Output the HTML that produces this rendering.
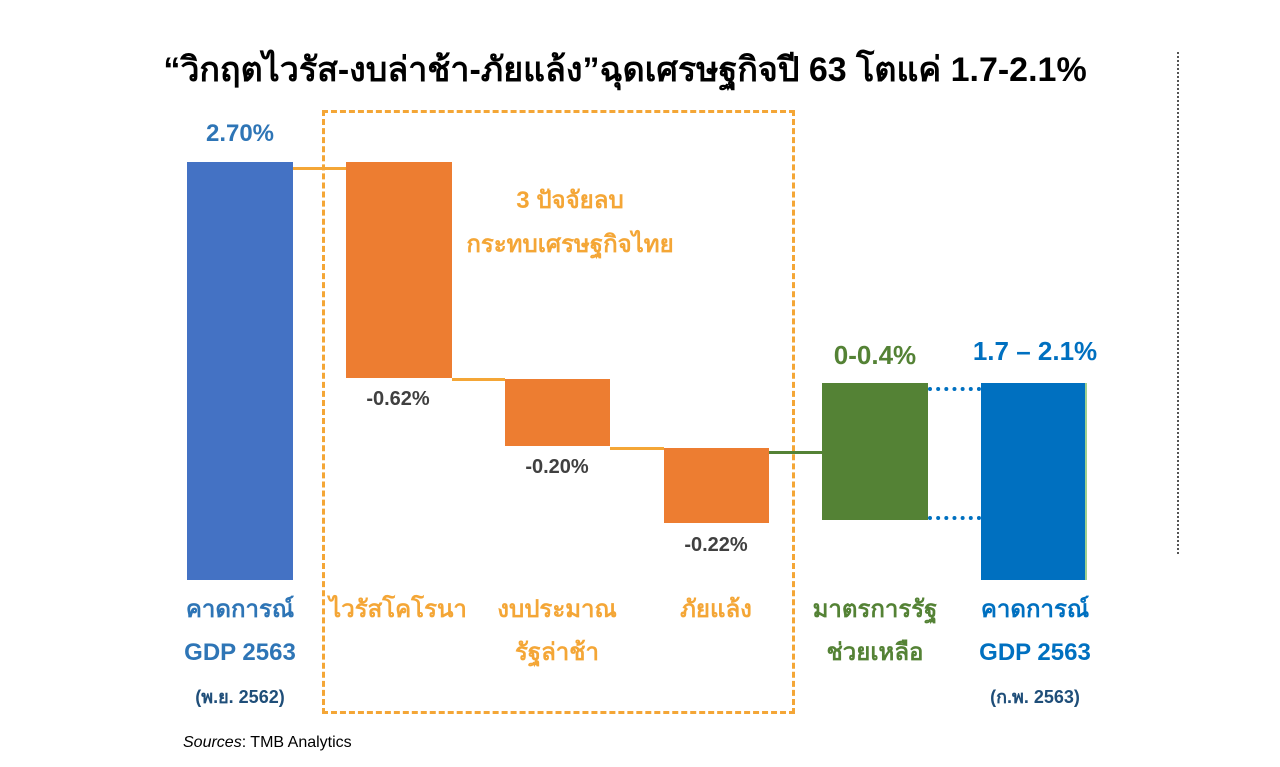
<!DOCTYPE html>
<html><head><meta charset="utf-8"><style>
body{margin:0;width:1280px;height:767px;background:#fff;position:relative;overflow:hidden;font-family:"Liberation Sans","DejaVu Sans","Noto Sans CJK SC",sans-serif;font-weight:bold}
div{position:absolute}
.t{text-align:center;white-space:nowrap}
</style></head><body>
<div class="t" style="left:40px;width:1170px;top:42px;font-size:34px;color:#000">“วิกฤตไวรัส-งบล่าช้า-ภัยแล้ง”ฉุดเศรษฐกิจปี 63 โตแค่ 1.7-2.1%</div>
<div style="left:322px;top:110px;width:467px;height:598px;border:3px dashed #F4A636"></div>
<div style="left:187px;top:162px;width:106px;height:418px;background:#4472C4"></div>
<div style="left:293px;top:167px;width:53px;height:3px;background:#F4A636"></div>
<div style="left:346px;top:162px;width:106px;height:216px;background:#ED7D31"></div>
<div style="left:452px;top:378px;width:53px;height:3px;background:#F4A636"></div>
<div style="left:505px;top:379px;width:105px;height:67px;background:#ED7D31"></div>
<div style="left:610px;top:447px;width:54px;height:3px;background:#F4A636"></div>
<div style="left:664px;top:448px;width:105px;height:75px;background:#ED7D31"></div>
<div style="left:769px;top:451px;width:53px;height:3px;background:#548235"></div>
<div style="left:822px;top:383px;width:106px;height:137px;background:#548235"></div>
<div style="left:928px;top:387px;width:53px;border-top:4px dotted #0070C0"></div>
<div style="left:928px;top:516px;width:53px;border-top:4px dotted #0070C0"></div>
<div style="left:981px;top:383px;width:104px;height:197px;background:#0070C0;border-right:2px solid #9FD08F"></div>
<div style="left:1177px;top:52px;height:502px;border-left:2px dotted #555"></div>
<div class="t" style="left:140px;width:200px;top:120px;font-size:24px;color:#2E75B6">2.70%</div>
<div class="t" style="left:298px;width:200px;top:388px;font-size:20px;color:#404040">-0.62%</div>
<div class="t" style="left:457px;width:200px;top:456px;font-size:20px;color:#404040">-0.20%</div>
<div class="t" style="left:616px;width:200px;top:534px;font-size:20px;color:#404040">-0.22%</div>
<div class="t" style="left:775px;width:200px;top:340px;font-size:26px;color:#548235">0-0.4%</div>
<div class="t" style="left:935px;width:200px;top:336px;font-size:26px;color:#0070C0">1.7 – 2.1%</div>
<div class="t" style="left:470px;width:200px;top:180px;font-size:24px;color:#F4A636">3 ปัจจัยลบ</div>
<div class="t" style="left:440px;width:260px;top:224px;font-size:24px;color:#F4A636">กระทบเศรษฐกิจไทย</div>
<div class="t" style="left:140px;width:200px;top:588px;font-size:24px;color:#2E75B6;line-height:43px">คาดการณ์<br>GDP 2563<br><span style="font-size:18px;color:#1F4E79">(พ.ย. 2562)</span></div>
<div class="t" style="left:298px;width:200px;top:588px;font-size:24px;color:#F4A636;line-height:43px">ไวรัสโคโรนา</div>
<div class="t" style="left:457px;width:200px;top:588px;font-size:24px;color:#F4A636;line-height:43px">งบประมาณ<br>รัฐล่าช้า</div>
<div class="t" style="left:616px;width:200px;top:588px;font-size:24px;color:#F4A636;line-height:43px">ภัยแล้ง</div>
<div class="t" style="left:775px;width:200px;top:588px;font-size:24px;color:#548235;line-height:43px">มาตรการรัฐ<br>ช่วยเหลือ</div>
<div class="t" style="left:935px;width:200px;top:588px;font-size:24px;color:#0070C0;line-height:43px">คาดการณ์<br>GDP 2563<br><span style="font-size:18px;color:#1F4E79">(ก.พ. 2563)</span></div>
<div style="left:183px;top:734px;font-size:16px;font-weight:normal;color:#000"><i>Sources</i>: TMB Analytics</div>
</body></html>
